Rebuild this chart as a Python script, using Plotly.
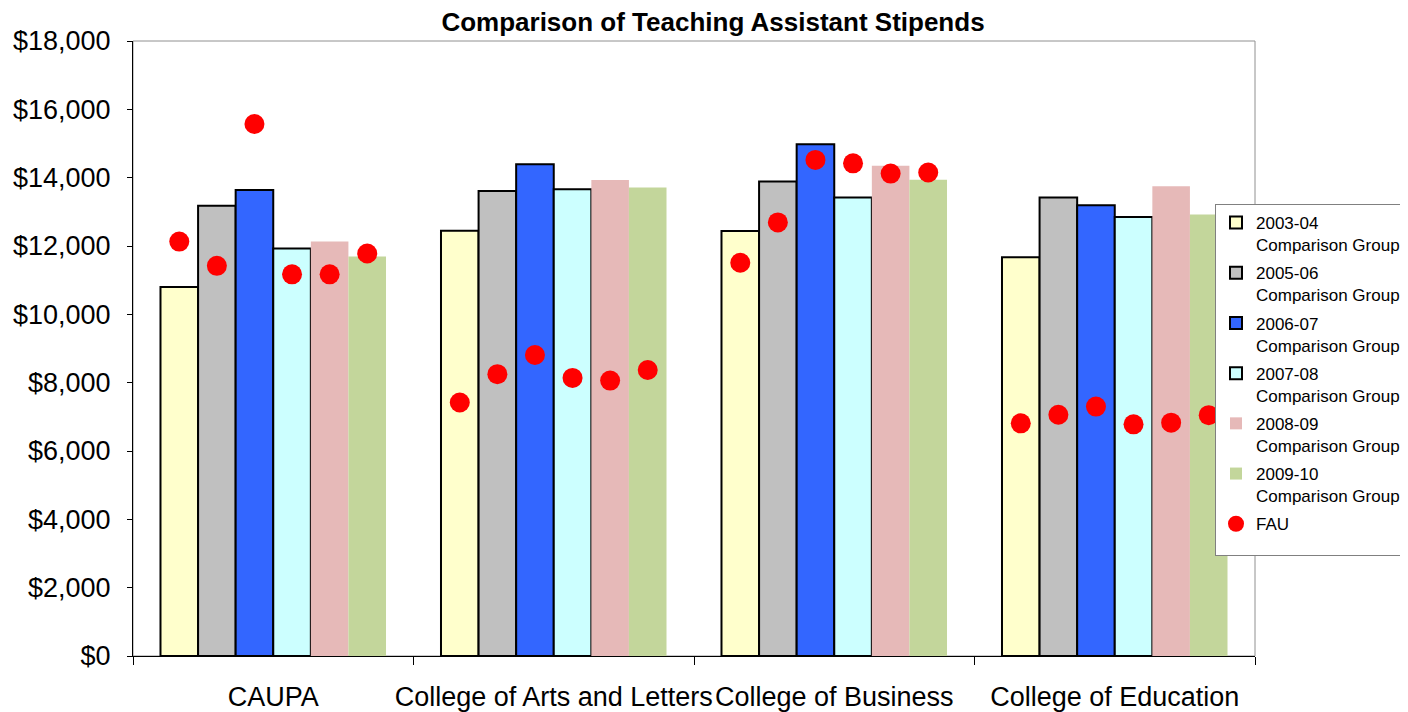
import plotly.graph_objects as go

categories = ["CAUPA", "College of Arts and Letters", "College of Business", "College of Education"]

series_names = [
    "2003-04<br>Comparison Group",
    "2005-06<br>Comparison Group",
    "2006-07<br>Comparison Group",
    "2007-08<br>Comparison Group",
    "2008-09<br>Comparison Group",
    "2009-10<br>Comparison Group",
]

comp_2003_04 = [10800, 12450, 12440, 11670]
comp_2005_06 = [13180, 13610, 13890, 13420]
comp_2006_07 = [13640, 14390, 14980, 13190]
comp_2007_08 = [11930, 13660, 13420, 12850]
comp_2008_09 = [12130, 13930, 14350, 13750]
comp_2009_10 = [11690, 13710, 13940, 12920]

# FAU values, one per comparison year within each college
fau_2003_04 = [12130, 7420, 11510, 6810]
fau_2005_06 = [11420, 8250, 12690, 7060]
fau_2006_07 = [15570, 8810, 14520, 7300]
fau_2007_08 = [11170, 8140, 14420, 6780]
fau_2008_09 = [11170, 8060, 14120, 6830]
fau_2009_10 = [11780, 8370, 14150, 7050]

comp_series = [comp_2003_04, comp_2005_06, comp_2006_07, comp_2007_08, comp_2008_09, comp_2009_10]
fau_series = [fau_2003_04, fau_2005_06, fau_2006_07, fau_2007_08, fau_2008_09, fau_2009_10]

colors = ["#FFFFCC", "#C0C0C0", "#3366FF", "#CCFFFF", "#E6B9B8", "#C3D69B"]
outlined = [True, True, True, True, False, False]

FONT = "Arial, 'Liberation Sans', sans-serif"
bargap = 0.196
n = len(comp_series)
bw = (1 - bargap) / n

xs = list(range(len(categories)))

# The page body adds an 8px margin, so the figure is sized 1400x704
W, H = 1400, 704

fig = go.Figure()
for j, (name, vals, col, ol) in enumerate(zip(series_names, comp_series, colors, outlined)):
    fig.add_trace(go.Bar(
        x=xs, y=vals, name=name, legendgroup=f"g{j}",
        marker=dict(color=col, line=dict(color="black" if ol else col, width=2 if ol else 0)),
    ))

for j, vals in enumerate(fau_series):
    off = (j - (n - 1) / 2) * bw
    fig.add_trace(go.Scatter(
        x=[i + off for i in xs], y=vals, mode="markers", name="FAU",
        marker=dict(color="#FF0000", size=20, symbol="circle"),
        showlegend=(j == 0), legendgroup="FAU",
    ))

# blank legend row (the reference legend box has empty space below FAU)
fig.add_trace(go.Scatter(x=[None], y=[None], mode="markers", name=" ",
                         marker=dict(color="rgba(0,0,0,0)", size=1,
                                     line=dict(width=0, color="rgba(0,0,0,0)")),
                         legendgroup="blank", hoverinfo="skip"))

fig.update_layout(
    width=W, height=H,
    margin=dict(l=125, r=153, t=33, b=56, autoexpand=False),
    paper_bgcolor="white", plot_bgcolor="white",
    barmode="group", bargap=bargap, bargroupgap=0,
    font=dict(family=FONT, color="black"),
    title=dict(text="<b>Comparison of Teaching Assistant Stipends</b>",
               x=705 / W, xref="container", y=1 - 14 / H, yref="container",
               xanchor="center", yanchor="middle",
               font=dict(size=26, family=FONT, color="black")),
    legend=dict(x=1207 / W, y=1 - 196 / H, xref="container", yref="container",
                xanchor="left", yanchor="top",
                bgcolor="white", bordercolor="#808080", borderwidth=1,
                font=dict(size=17, family=FONT, color="black"),
                valign="top", tracegroupgap=3),
    xaxis=dict(range=[-0.5, 3.5], tickmode="array", tickvals=xs, ticktext=categories,
               showline=True, linecolor="black", linewidth=1, showgrid=False, zeroline=False,
               ticks="", ticklabelstandoff=17, automargin=False,
               tickfont=dict(size=27, family=FONT, color="black"),
               minor=dict(tickmode="array", tickvals=[-0.5, 0.5, 1.5, 2.5, 3.5],
                          ticks="outside", ticklen=8, tickcolor="black", tickwidth=1,
                          showgrid=False)),
    yaxis=dict(range=[0, 18000], dtick=2000, tickprefix="$", tickformat=",",
               showline=True, linecolor="black", linewidth=1, showgrid=False, zeroline=False,
               ticks="outside", ticklen=5, tickcolor="black", ticklabelstandoff=11,
               automargin=False,
               tickfont=dict(size=27, family=FONT, color="black")),
    shapes=[dict(type="rect", xref="paper", yref="paper", x0=0, x1=1, y0=0, y1=1,
                 line=dict(color="#909090", width=1), layer="below")],
)

fig.write_html("out.html")
